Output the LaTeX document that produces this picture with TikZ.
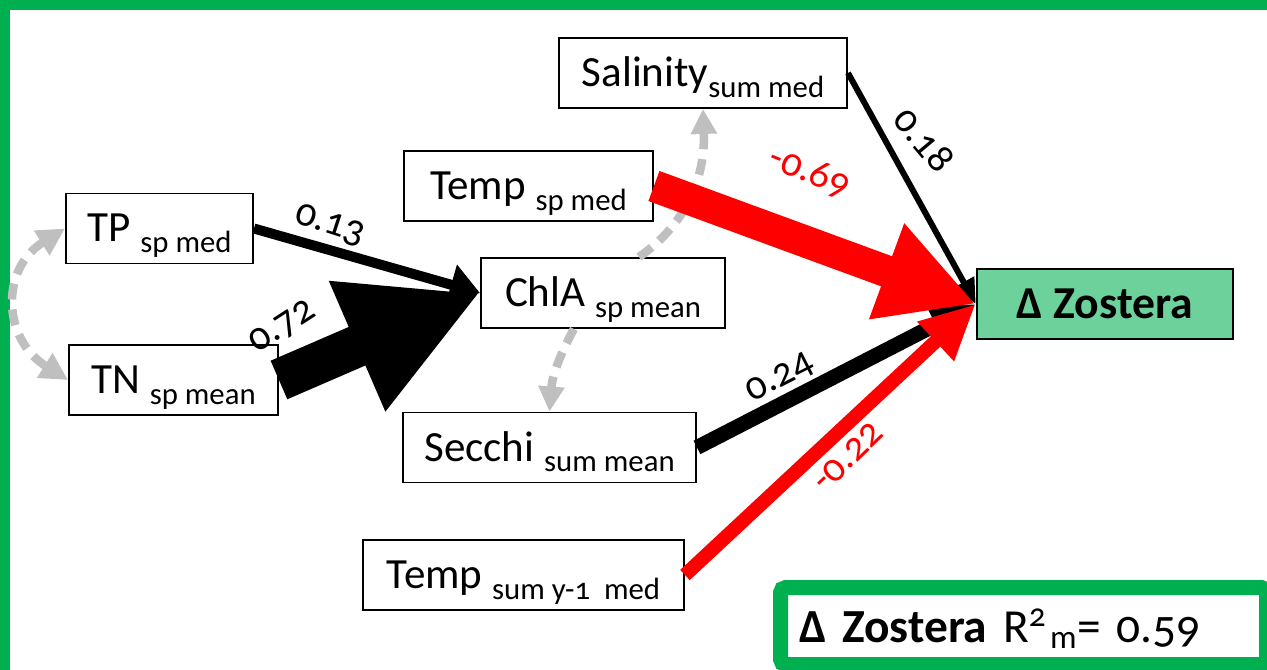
\documentclass[tikz,border=0pt]{standalone}
\usepackage{fontspec}
\setmainfont{Carlito}[Numbers=OldStyle]
\usepackage{tikz}
\usetikzlibrary{arrows.meta,positioning}

\definecolor{framegreen}{HTML}{00B050}
\definecolor{zosgreen}{HTML}{6DD19B}
\definecolor{pathgrey}{HTML}{BFBFBF}

\newcommand{\lowsub}[1]{\raisebox{-6pt}{\fontsize{17.5}{17.5}\selectfont #1}}

\begin{document}
\begin{tikzpicture}[
  var/.style={draw, line width=1.1pt, inner sep=0pt, minimum height=1.4cm,
    text height=0.8cm, text depth=0.26cm, font=\fontsize{24.5}{28}\selectfont},
  resp/.style={draw, line width=1.4pt, fill=zosgreen, minimum height=1.4cm, minimum width=5.12cm,
    font=\fontsize{26}{30}\selectfont\bfseries},
  coef/.style={font=\fontsize{23}{26}\selectfont, inner sep=0pt},
  blk/.style={draw=black, line cap=butt},
  neg/.style={draw=red, line cap=butt},
  corr/.style={draw=pathgrey, line width=0.17cm, dash pattern=on 0.32cm off 0.2cm},
  ghead/.style={-{Triangle[length=0.5cm,width=0.5cm]}}
]
\useasboundingbox (0,0) rectangle (25.34,-13.4);
\clip (0,0) rectangle (25.34,-13.4);
\fill[framegreen] (0,0) rectangle (25.34,-0.2);
\fill[framegreen] (0,0) rectangle (0.2,-13.4);

\node[var, minimum width=5.76cm] (sal) at (14.06,-1.46) {Salinity\lowsub{sum med}};
\node[var, minimum width=4.98cm] (tsp) at (10.57,-3.72) {Temp \lowsub{sp med}};
\node[var, minimum width=3.74cm] (tp) at (3.19,-4.57) {TP \lowsub{sp med}};
\node[var, minimum width=4.88cm] (chla) at (12.06,-5.86) {ChlA \lowsub{sp mean}};
\node[var, minimum width=4.18cm] (tn) at (3.47,-7.6) {TN \lowsub{sp mean}};
\node[var, minimum width=5.86cm] (secchi) at (10.99,-8.95) {Secchi \lowsub{sum mean}};
\node[var, minimum width=6.42cm] (tsum) at (10.47,-11.5) {Temp \lowsub{sum y-1\ \ med}};
\node[resp] (zos) at (22.1,-6.08) {Δ Zostera};

\draw[corr, {Triangle[length=0.55cm,width=0.55cm]}-{Triangle[length=0.55cm,width=0.55cm]}]
  (tp.west) to[out=212, in=148, looseness=1.3] (tn.west);
\draw[corr, ghead] (chla.45) to[out=35, in=-88] (sal.south);
\draw[corr, ghead] (chla.231) to[bend right=12] (secchi.north);

\draw[blk, line width=0.2cm, -{Triangle[length=0.6cm,width=0.8cm]}] (tp.east) -- (chla.west);
\draw[blk, line width=0.84cm, -{Triangle[length=2.68cm,width=2.64cm]}] (tn.east) -- (chla.west);
\draw[blk, line width=0.12cm, -{Triangle[length=0.5cm,width=0.45cm]}] (sal.east) -- (zos.west);
\draw[blk, line width=0.3cm, -{Triangle[length=0.9cm,width=0.8cm]}] (secchi.east) -- (zos.west);
\draw[neg, line width=0.64cm, -{Triangle[length=1.9cm,width=1.9cm]}] (tsp.east) -- (zos.west);
\draw[neg, line width=0.28cm, -{Triangle[length=1.1cm,width=1.0cm]}] (tsum.east) -- (zos.west);

\node[coef, rotate=-18] (ctp) at (6.6,-4.5) {0.13};
\node[coef, rotate=33] (ctn) at (5.66,-6.54) {0.72};
\node[coef, rotate=-50] (csal) at (18.48,-2.8) {0.18};
\node[coef, rotate=-22, text=red] (ctsp) at (16.2,-3.44) {-0.69};
\node[coef, rotate=27] (csec) at (15.6,-7.56) {0.24};
\node[coef, rotate=44, text=red] (ctsum) at (16.96,-9.14) {-0.22};

\node[draw=framegreen, line width=0.3cm, rounded corners=3pt, minimum width=9.72cm, minimum height=1.54cm,
  text width=8.98cm, inner xsep=0.37cm, align=left, text height=0.75cm, text depth=0.11cm,
  font=\fontsize{27}{30}\selectfont] (r2box) at (20.47,-12.52)
  {\textbf{Δ Zostera} R\textsuperscript{2}\hspace{2pt}\textsubscript{m}= 0.59};
\end{tikzpicture}
\end{document}
